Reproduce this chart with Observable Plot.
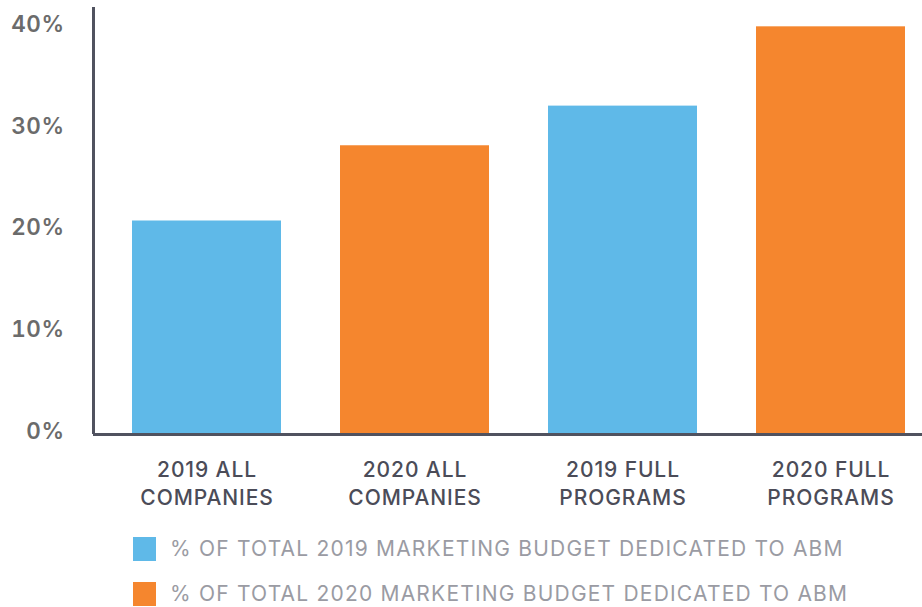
<!DOCTYPE html>
<html>
<head>
<meta charset="utf-8">
<script src="https://cdn.jsdelivr.net/npm/d3@7"></script>
<script src="https://cdn.jsdelivr.net/npm/@observablehq/plot@0.6"></script>
<style>
  html, body { margin: 0; padding: 0; background: #fff; }
  body { width: 922px; height: 607px; overflow: hidden; font-family: Inter, Lato, sans-serif; }
  #legend { position: relative; margin-left: 133px; margin-top: 11px; }
  .item { display: flex; align-items: center; height: 45px; }
  .sw { width: 23px; height: 24px; margin-right: 14px; flex: none; }
  .lab { color: #9a9ba3; font-size: 21px; letter-spacing: 1.2px; white-space: nowrap; }
  g[aria-label="x-axis tick label"] { letter-spacing: 0.9px; }
  g[aria-label="y-axis tick label"] { letter-spacing: 0.5px; }
</style>
</head>
<body>
<div id="chart"></div>
<div id="legend"></div>
<script>
const categories = ["2019 ALL\nCOMPANIES", "2020 ALL\nCOMPANIES", "2019 FULL\nPROGRAMS", "2020 FULL\nPROGRAMS"];
const values = [21, 28.4, 32.3, 40.1];
const years = ["2019", "2020", "2019", "2020"];
const yTicks = [0, 10, 20, 30, 40];
const legendLabels = ["% OF TOTAL 2019 MARKETING BUDGET DEDICATED TO ABM", "% OF TOTAL 2020 MARKETING BUDGET DEDICATED TO ABM"];
const colors = {"2019": "#5fb9e8", "2020": "#f5862e"};

const data = categories.map((c, i) => ({category: c, value: values[i], year: years[i]}));

const chart = Plot.plot({
  width: 922,
  height: 515,
  marginLeft: 93,
  marginRight: 0,
  marginTop: 7,
  marginBottom: 81,
  style: {fontFamily: "Inter, Lato, sans-serif", background: "#fff"},
  x: {domain: categories, paddingInner: 0.2837, paddingOuter: 0.1346, align: 0.7, label: null},
  y: {domain: [0, 42], label: null},
  color: {domain: ["2019", "2020"], range: [colors["2019"], colors["2020"]]},
  marks: [
    Plot.barY(data, {x: "category", y: "value", fill: "year"}),
    Plot.axisY({ticks: yTicks, tickFormat: d => d + "%", tickSize: 0, tickPadding: 29, dy: -3, fontSize: 22.5, fontWeight: 600, fill: "#6b6b6b", label: null}),
    Plot.axisX({tickSize: 0, tickPadding: 22, fontSize: 21, fontWeight: 500, fill: "#4b4c58", lineHeight: 1.35, label: null}),
    Plot.ruleX([categories[0]], {x: d => d, y1: 0, y2: 42, dx: -113.5, stroke: "#50525f", strokeWidth: 3}),
    Plot.ruleY([0], {stroke: "#50525f", strokeWidth: 3})
  ]
});
document.getElementById("chart").appendChild(chart);

const legend = document.getElementById("legend");
legendLabels.forEach((t, i) => {
  const item = document.createElement("div");
  item.className = "item";
  const sw = document.createElement("div");
  sw.className = "sw";
  sw.style.background = colors[i === 0 ? "2019" : "2020"];
  const lab = document.createElement("span");
  lab.className = "lab";
  lab.textContent = t;
  item.appendChild(sw);
  item.appendChild(lab);
  legend.appendChild(item);
});
</script>
</body>
</html>
